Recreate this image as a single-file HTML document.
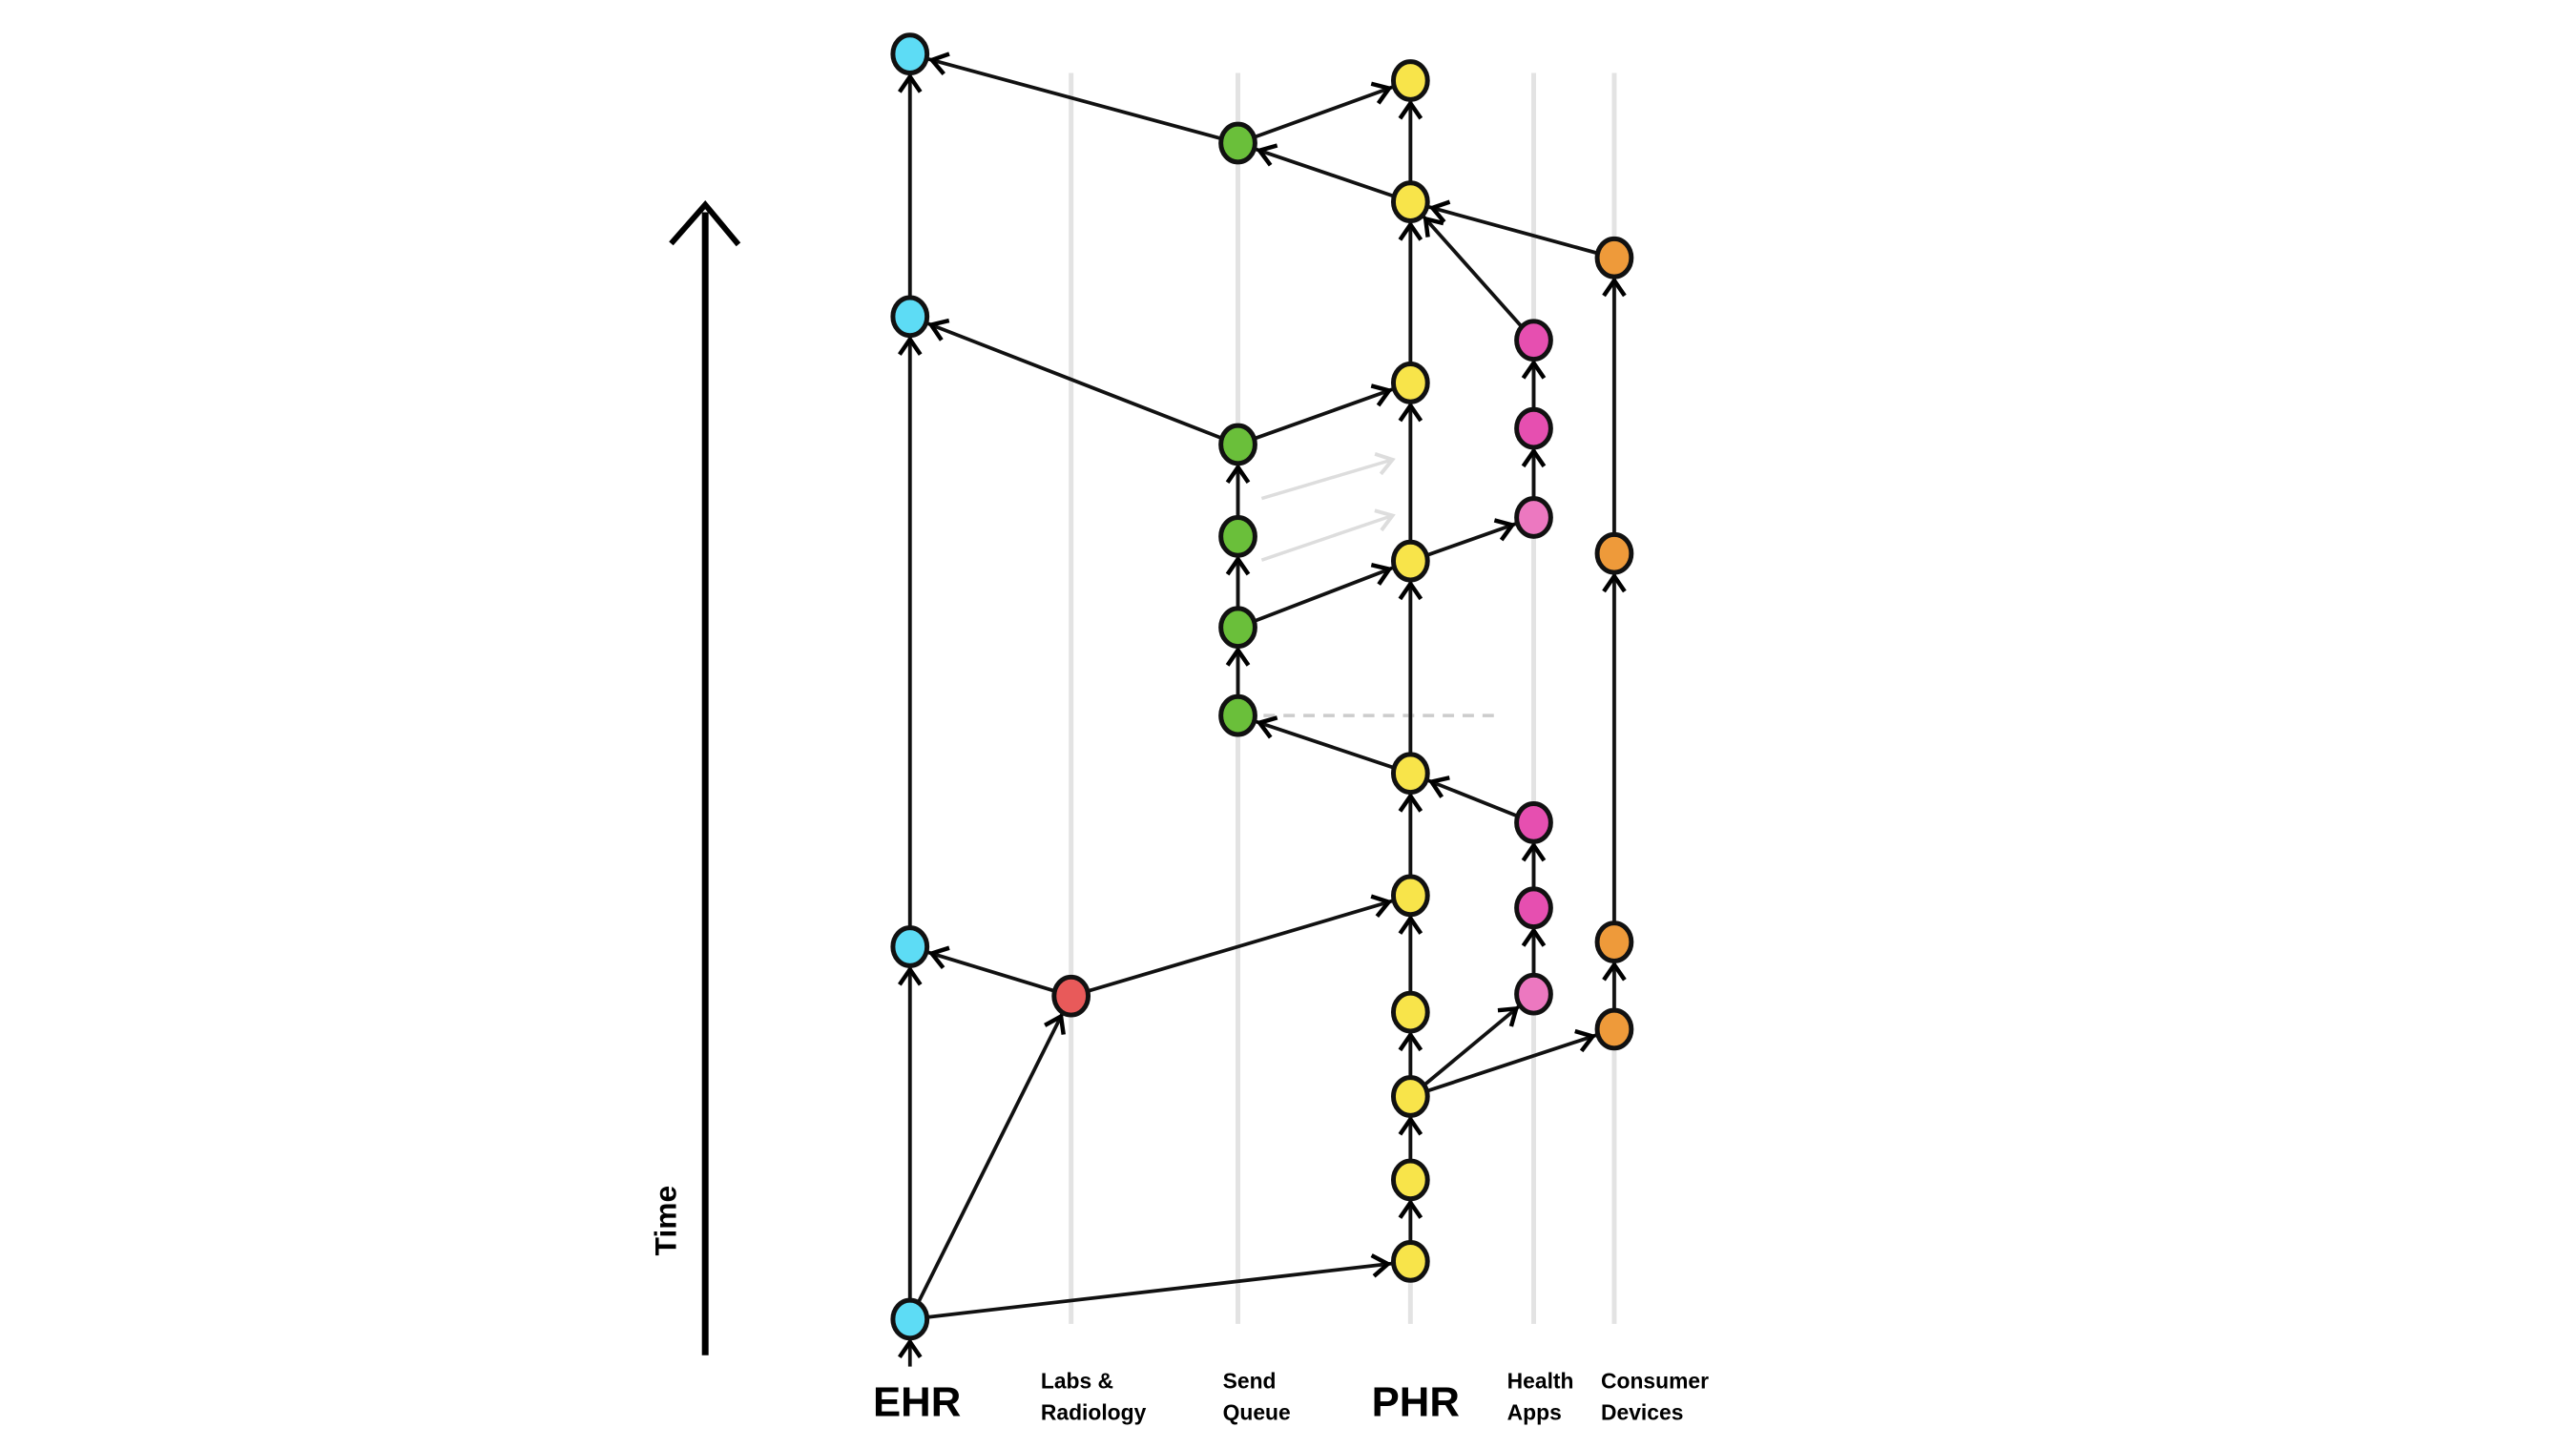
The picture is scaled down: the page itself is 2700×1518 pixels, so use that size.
<!DOCTYPE html>
<html><head><meta charset="utf-8"><style>
html,body{margin:0;padding:0;background:#fff;}
svg{display:block;}
text{font-family:"Liberation Sans",sans-serif;font-weight:bold;fill:#000;}
</style></head><body>
<svg width="2700" height="1518" viewBox="0 0 2700 1518" xmlns="http://www.w3.org/2000/svg">
<defs>
<marker id="a" markerUnits="userSpaceOnUse" viewBox="-40 -20 80 40" markerWidth="80" markerHeight="40" refX="24" refY="0" orient="auto">
<path d="M-16 -11 L0 0 L-16 11" fill="none" stroke="#000" stroke-width="4.5" stroke-linejoin="miter"/>
</marker>
<marker id="g" markerUnits="userSpaceOnUse" viewBox="-40 -20 80 40" markerWidth="80" markerHeight="40" refX="0" refY="0" orient="auto">
<path d="M-16 -11 L0 0 L-16 11" fill="none" stroke="#ddd" stroke-width="4"/>
</marker>
</defs>
<g transform="translate(3,2) scale(0.9935)">
<g stroke="#e3e3e3" stroke-width="5">
<line x1="957" y1="75" x2="957" y2="1395"/>
<line x1="1127" y1="75" x2="1127" y2="1395"/>
<line x1="1303" y1="75" x2="1303" y2="1395"/>
<line x1="1485" y1="75" x2="1485" y2="1395"/>
<line x1="1615" y1="75" x2="1615" y2="1395"/>
<line x1="1700" y1="75" x2="1700" y2="1395"/>
</g>
<line x1="741" y1="222" x2="741" y2="1428" stroke="#000" stroke-width="7"/>
<path d="M705 255 L741 214 L776 256" fill="none" stroke="#000" stroke-width="6"/>
<text transform="translate(710,1286) rotate(-90)" font-size="32" text-anchor="middle">Time</text>
<g stroke="#ddd" stroke-width="3.5">
<line x1="1328" y1="524" x2="1466" y2="483" marker-end="url(#g)"/>
<line x1="1328" y1="589" x2="1466" y2="542" marker-end="url(#g)"/>
</g>
<line x1="1330" y1="753" x2="1575" y2="753" stroke="#ccc" stroke-width="3.5" stroke-dasharray="12 9"/>
<g stroke="#111" stroke-width="3.8" marker-end="url(#a)">
<line x1="957" y1="1440" x2="957" y2="1390"/>
<line x1="957" y1="1390" x2="957" y2="997"/>
<line x1="957" y1="997" x2="957" y2="332"/>
<line x1="957" y1="332" x2="957" y2="55"/>
<line x1="957" y1="1390" x2="1127" y2="1049"/>
<line x1="957" y1="1390" x2="1485" y2="1329"/>
<line x1="1127" y1="1049" x2="957" y2="997"/>
<line x1="1127" y1="1049" x2="1485" y2="943"/>
<line x1="1485" y1="1329" x2="1485" y2="1243"/>
<line x1="1485" y1="1243" x2="1485" y2="1155"/>
<line x1="1485" y1="1155" x2="1485" y2="1066"/>
<line x1="1485" y1="1066" x2="1485" y2="943"/>
<line x1="1485" y1="943" x2="1485" y2="814"/>
<line x1="1485" y1="814" x2="1485" y2="590"/>
<line x1="1485" y1="590" x2="1485" y2="402"/>
<line x1="1485" y1="402" x2="1485" y2="211"/>
<line x1="1485" y1="211" x2="1485" y2="83"/>
<line x1="1485" y1="1155" x2="1615" y2="1047"/>
<line x1="1485" y1="1155" x2="1700" y2="1084"/>
<line x1="1615" y1="1047" x2="1615" y2="956"/>
<line x1="1615" y1="956" x2="1615" y2="866"/>
<line x1="1615" y1="866" x2="1485" y2="814"/>
<line x1="1700" y1="1084" x2="1700" y2="992"/>
<line x1="1700" y1="992" x2="1700" y2="582"/>
<line x1="1700" y1="582" x2="1700" y2="270"/>
<line x1="1700" y1="270" x2="1485" y2="211"/>
<line x1="1485" y1="814" x2="1303" y2="753"/>
<line x1="1303" y1="753" x2="1303" y2="660"/>
<line x1="1303" y1="660" x2="1303" y2="564"/>
<line x1="1303" y1="564" x2="1303" y2="467"/>
<line x1="1303" y1="660" x2="1485" y2="590"/>
<line x1="1303" y1="467" x2="1485" y2="402"/>
<line x1="1303" y1="467" x2="957" y2="332"/>
<line x1="1485" y1="590" x2="1615" y2="544"/>
<line x1="1615" y1="544" x2="1615" y2="450"/>
<line x1="1615" y1="450" x2="1615" y2="357"/>
<line x1="1615" y1="357" x2="1485" y2="211"/>
<line x1="1485" y1="211" x2="1303" y2="149"/>
<line x1="1303" y1="149" x2="1485" y2="83"/>
<line x1="1303" y1="149" x2="957" y2="55"/>
</g>
<g stroke="#111" stroke-width="5">
<g fill="#5ddcf5">
<ellipse cx="957" cy="55" rx="18" ry="20"/><ellipse cx="957" cy="332" rx="18" ry="20"/>
<ellipse cx="957" cy="997" rx="18" ry="20"/><ellipse cx="957" cy="1390" rx="18" ry="20"/>
</g>
<ellipse cx="1127" cy="1049" rx="18" ry="20" fill="#e85a5a"/>
<g fill="#6abf3a">
<ellipse cx="1303" cy="149" rx="18" ry="20"/><ellipse cx="1303" cy="467" rx="18" ry="20"/>
<ellipse cx="1303" cy="564" rx="18" ry="20"/><ellipse cx="1303" cy="660" rx="18" ry="20"/>
<ellipse cx="1303" cy="753" rx="18" ry="20"/>
</g>
<g fill="#f8e44a">
<ellipse cx="1485" cy="83" rx="18" ry="20"/><ellipse cx="1485" cy="211" rx="18" ry="20"/>
<ellipse cx="1485" cy="402" rx="18" ry="20"/><ellipse cx="1485" cy="590" rx="18" ry="20"/>
<ellipse cx="1485" cy="814" rx="18" ry="20"/><ellipse cx="1485" cy="943" rx="18" ry="20"/>
<ellipse cx="1485" cy="1066" rx="18" ry="20"/><ellipse cx="1485" cy="1155" rx="18" ry="20"/>
<ellipse cx="1485" cy="1243" rx="18" ry="20"/><ellipse cx="1485" cy="1329" rx="18" ry="20"/>
</g>
<g fill="#e64fb0">
<ellipse cx="1615" cy="357" rx="18" ry="20"/><ellipse cx="1615" cy="450" rx="18" ry="20"/>
<ellipse cx="1615" cy="866" rx="18" ry="20"/><ellipse cx="1615" cy="956" rx="18" ry="20"/>
</g>
<g fill="#ec78c0">
<ellipse cx="1615" cy="544" rx="18" ry="20"/><ellipse cx="1615" cy="1047" rx="18" ry="20"/>
</g>
<g fill="#ee9a3a">
<ellipse cx="1700" cy="270" rx="18" ry="20"/><ellipse cx="1700" cy="582" rx="18" ry="20"/>
<ellipse cx="1700" cy="992" rx="18" ry="20"/><ellipse cx="1700" cy="1084" rx="18" ry="20"/>
</g>
</g>
<text x="918" y="1492" font-size="44">EHR</text>
<text x="1444" y="1492" font-size="44">PHR</text>
<g font-size="23">
<text x="1095" y="1463">Labs &amp;</text><text x="1095" y="1496">Radiology</text>
<text x="1287" y="1463">Send</text><text x="1287" y="1496">Queue</text>
<text x="1587" y="1463">Health</text><text x="1587" y="1496">Apps</text>
<text x="1686" y="1463">Consumer</text><text x="1686" y="1496">Devices</text>
</g>
</g>
</svg>
</body></html>
